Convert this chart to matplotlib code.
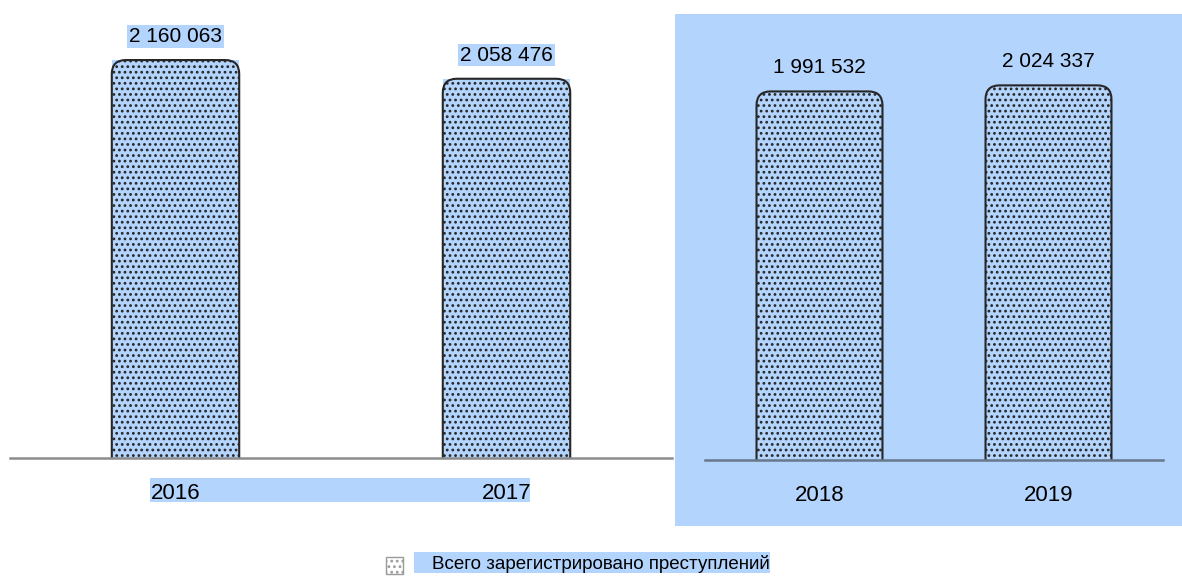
import matplotlib
matplotlib.use('Agg')
import matplotlib.pyplot as plt
from matplotlib.patches import FancyBboxPatch, Rectangle

plt.rcParams['font.family'] = ['Liberation Sans', 'DejaVu Sans']
plt.rcParams['hatch.color'] = '#1a1a1a'
plt.rcParams['hatch.linewidth'] = 1.2

# data
years_left = ['2016', '2017']
values_left = [2160063, 2058476]
years_right = ['2018', '2019']
values_right = [1991532, 2024337]
legend_label = 'Всего зарегистрировано преступлений'

BLUE = '#b3d4fc'
W, H = 1182, 576
fig = plt.figure(figsize=(W / 100, H / 100), dpi=100, facecolor='white')


def fig_rect(x, y_top, w, h, **kw):
    # rectangle in pixel units (from top-left), drawn under the axes
    kw.setdefault('edgecolor', 'none')
    kw.setdefault('zorder', -1)
    fig.patches.append(Rectangle((x / W, 1 - (y_top + h) / H), w / W, h / H,
                                 transform=fig.transFigure, **kw))


# light blue panel behind 2018-2019
fig_rect(675, 14, W - 675, 512, facecolor=BLUE)
# highlight band under 2016-2017 labels
fig_rect(150, 478, 380, 24, facecolor=BLUE)

ymax = 2.41e6


def px_axes(x0, x1, ybase):
    top = 14
    return fig.add_axes([x0 / W, 1 - ybase / H, (x1 - x0) / W, (ybase - top) / H])


def fmt(v):
    return f'{v:,}'.replace(',', ' ')


def draw_panel(ax, labels, values, width, label_bg, base_color):
    ax.set_xlim(-0.5, len(values) - 0.5)
    ax.set_ylim(0, ymax)
    ax.patch.set_visible(False)
    for s in ['top', 'left', 'right']:
        ax.spines[s].set_visible(False)
    ax.spines['bottom'].set_color(base_color)
    ax.spines['bottom'].set_linewidth(1.8)
    ax.spines['bottom'].set_zorder(5)
    ax.set_yticks([])
    ax.set_xticks(range(len(labels)))
    ax.set_xticklabels(labels, fontsize=16)
    ax.tick_params(axis='x', length=0, pad=18)

    bars = ax.bar(range(len(values)), values, width=width, color=BLUE,
                  edgecolor='none', zorder=1)

    # rounded tops
    (x0, x1), (y0, y1) = ax.get_xlim(), ax.get_ylim()
    bb = ax.get_window_extent()
    dx = (x1 - x0) / bb.width
    dy = (y1 - y0) / bb.height
    r = 14 * dx
    aspect = dy / dx
    for b in bars:
        p = FancyBboxPatch((b.get_x(), -r * aspect), b.get_width(),
                           b.get_height() + r * aspect,
                           boxstyle=f'round,pad=0,rounding_size={r}',
                           mutation_aspect=aspect, facecolor=BLUE,
                           edgecolor='#262626', linewidth=1.5, hatch='...',
                           zorder=2)
        ax.add_patch(p)
        bbox = dict(boxstyle='square,pad=0.08', facecolor=BLUE, edgecolor='none') if label_bg else None
        ax.annotate(fmt(int(b.get_height())),
                    (b.get_x() + b.get_width() / 2, b.get_height()),
                    xytext=(0, 14), textcoords='offset pixels',
                    ha='center', va='bottom', fontsize=15, bbox=bbox)


ax1 = px_axes(10, 672, 458)
draw_panel(ax1, years_left, values_left, 0.385, True, '#8c8c8c')
ax2 = px_axes(705, 1163, 460)
draw_panel(ax2, years_right, values_right, 0.55, False, '#68798b')

# legend
fig_rect(414, 552, 356, 21, facecolor=BLUE)
fig_rect(386, 557, 17, 17, facecolor='white', edgecolor='#9a9a9a',
         linewidth=1, hatch='...')
fig.text(432 / W, 1 - 564 / H, legend_label, fontsize=13.5, va='center', ha='left')

fig.savefig('out.png', dpi=100, facecolor='white')
